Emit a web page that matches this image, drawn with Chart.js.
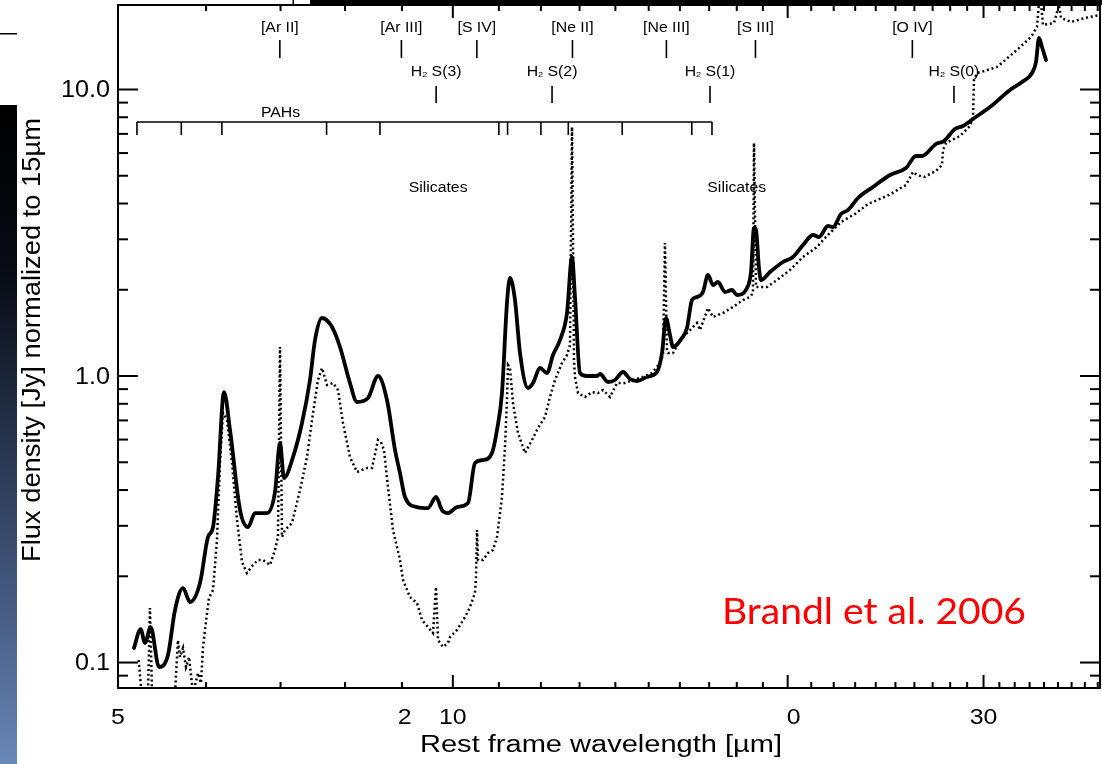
<!DOCTYPE html>
<html><head><meta charset="utf-8">
<script src="https://cdn.jsdelivr.net/npm/chart.js@4.4.1/dist/chart.umd.min.js"></script>
<style>html,body{margin:0;padding:0;background:#fff;overflow:hidden}</style>
</head><body>
<canvas id="c" width="1102" height="764"></canvas>
<script>
// ---- data (wavelength in µm, flux density in Jy) ----
const solidWavelength = [5.168,5.240,5.287,5.350,5.443,5.545,5.626,5.720,5.804,5.925,6.024,6.087,6.150,6.227,6.305,6.437,6.544,6.640,6.807,6.920,6.992,7.050,7.183,7.318,7.440,7.518,7.627,7.787,7.917,8.082,8.200,8.389,8.565,8.726,8.872,8.964,9.057,9.285,9.499,9.657,9.778,9.900,10.087,10.319,10.469,10.644,10.844,10.957,11.071,11.186,11.256,11.373,11.492,11.683,11.805,11.977,12.152,12.304,12.484,12.666,12.798,12.877,13.011,13.201,13.477,13.561,13.788,13.989,14.223,14.430,14.641,14.947,15.260,15.419,15.547,15.676,15.774,16.070,16.238,16.407,16.577,16.784,16.959,17.135,17.314,17.566,17.823,18.008,18.385,18.538,18.654,18.731,18.847,18.925,19.281,19.807,20.22,20.645,21.077,21.340,21.741,21.968,22.334,22.660,23.134,23.864,24.72,25.551,26.086,26.412,27.188,27.642,28.279,28.751,29.353,30.404,31.689,32.486,33.17,33.441,33.650,33.859,34.141];
const solidFlux = [0.1124,0.1309,0.1170,0.1330,0.0965,0.1062,0.1525,0.1820,0.1626,0.1894,0.2742,0.2971,0.4441,0.8793,0.6479,0.3406,0.2971,0.3325,0.3325,0.3937,0.5837,0.4406,0.5215,0.6854,0.9684,1.3355,1.5938,1.4827,1.2625,0.9453,0.8115,0.8379,1.000,0.8246,0.5517,0.4586,0.3782,0.3489,0.3461,0.3782,0.3406,0.3325,0.3489,0.3603,0.4970,0.5091,0.5386,0.6479,0.8723,1.798,2.198,1.842,1.203,0.9081,0.9453,1.0664,1.0244,1.1839,1.3355,1.6592,2.6023,1.8869,1.0244,1.000,1.000,1.0162,0.9529,0.9684,1.0327,0.9762,0.9606,0.9920,1.0327,1.2030,1.5938,1.3903,1.2625,1.3572,1.4708,1.842,1.8869,1.9642,2.2518,2.0779,2.1286,1.9642,1.9961,1.9174,2.0284,2.3067,3.2851,3.2327,2.3821,2.1631,2.3067,2.4998,2.6023,2.8658,3.1057,3.0562,3.3384,3.3116,3.6766,3.7967,4.1811,4.5675,5.0301,5.3211,5.8600,5.8600,6.4532,6.6108,7.2802,7.4580,7.8896,8.6884,9.9597,10.621,11.418,12.473,15.128,14.072,12.675];

const dottedWavelength = [5.219,5.250,5.320,5.342,5.365,5.626,5.661,5.685,5.720,5.756,5.792,5.840,5.901,5.937,5.962,6.012,6.036,6.087,6.137,6.175,6.214,6.266,6.331,6.397,6.463,6.530,6.612,6.681,6.750,6.849,6.920,6.963,6.992,7.021,7.065,7.168,7.288,7.394,7.471,7.564,7.627,7.707,7.803,7.884,7.966,8.082,8.200,8.372,8.459,8.565,8.618,8.672,8.744,8.835,8.964,9.020,9.151,9.285,9.382,9.499,9.598,9.657,9.698,9.798,9.900,9.941,10.087,10.255,10.362,10.469,10.491,10.513,10.535,10.644,10.755,10.867,10.957,11.026,11.071,11.140,11.186,11.210,11.256,11.326,11.444,11.611,11.781,11.928,12.102,12.228,12.355,12.535,12.666,12.745,12.798,12.851,12.877,12.958,13.147,13.339,13.505,13.646,13.845,14.047,14.282,14.520,14.824,15.103,15.355,15.450,15.514,15.579,15.611,15.774,16.004,16.339,16.577,16.681,16.959,17.135,17.494,17.860,18.233,18.499,18.615,18.654,18.731,19.162,19.563,20.096,20.645,21.252,21.562,22.334,22.991,23.618,24.668,25.551,25.924,26.14,26.52,27.188,27.528,27.585,27.76,28.573,29.171,29.353,29.413,29.596,29.843,30.848,32.151,33.097,33.511,33.719,33.929,34.711,35.073,35.22,35.954,37.012,38.18];
const dottedFlux = [0.1020,0.078,0.078,0.1550,0.078,0.078,0.1198,0.1045,0.1124,0.0965,0.1045,0.078,0.0919,0.0848,0.1133,0.1489,0.1679,0.1791,0.2677,0.4970,0.7428,0.7022,0.4970,0.3143,0.2243,0.2053,0.2190,0.2279,0.2279,0.2190,0.2470,0.2742,1.2625,0.2742,0.2901,0.3069,0.4000,0.5215,0.7022,0.9684,1.0664,0.9302,0.9453,0.8936,0.6854,0.5215,0.4623,0.4774,0.4774,0.5979,0.5883,0.5517,0.4098,0.2901,0.2279,0.1941,0.1693,0.1613,0.1407,0.1330,0.1268,0.1835,0.1198,0.1133,0.1170,0.1227,0.1299,0.1441,0.1562,0.1748,0.1988,0.2901,0.2279,0.2279,0.2411,0.2470,0.2742,0.3325,0.3782,0.5652,0.8246,1.0924,1.0664,0.8049,0.6325,0.5386,0.5979,0.6584,0.7193,0.8447,0.9684,1.1101,1.1839,1.2829,7.398,1.1372,0.9920,0.8723,0.8447,0.8793,0.8723,0.8936,0.8447,0.9453,0.9453,0.9684,0.9920,1.0244,1.1101,1.1839,2.9122,1.2324,1.2030,1.2030,1.3355,1.4473,1.5311,1.4473,1.7273,1.6067,1.6592,1.7412,1.8420,1.8869,1.9486,6.505,2.0448,2.0448,2.1631,2.3441,2.6023,2.8201,3.0074,3.4475,3.6766,3.9843,4.2832,4.6416,5.1527,5.0301,4.9498,5.1944,5.4509,6.1494,6.5054,6.8818,7.4580,8.0174,10.793,11.418,11.510,11.982,13.737,15.251,16.527,22,16.794,17.066,19.722,17.766,17.204,17.766,18.200];

// axis ticks and labels
const xMajorTicks = [5, 10, 20, 30];
const xMinorTicks = [6,7,8,9,11,12,13,14,15,16,17,18,19,21,22,23,24,25,26,27,28,29,31,32,33,34,35,36,37,38];
const xTickLabels = ['5', '2', '10', '0', '30'];
const xTickLabelAt = [5, 9.05, 10, 20.25, 30];
const yMajorTicks = [0.1, 1, 10];
const yMinorTicks = [0.09,0.2,0.3,0.4,0.5,0.6,0.7,0.8,0.9,2,3,4,5,6,7,8,9];
const yTickLabels = ['0.1', '1.0', '10.0'];

// spectral line identifications
const ionLines = ['[Ar II]', '[Ar III]', '[S IV]', '[Ne II]', '[Ne III]', '[S III]', '[O IV]'];
const ionWavelength = [6.99, 8.99, 10.51, 12.81, 15.56, 18.71, 25.89];
const h2Lines = ['S(3)', 'S(2)', 'S(1)', 'S(0)'];
const h2Wavelength = [9.66, 12.28, 17.03, 28.22];
const pahBands = [5.2, 5.7, 6.2, 7.7, 8.6, 11.0, 11.2, 12.0, 12.7, 14.2, 16.4, 17.1];
const silicateLabelAt = [9.7, 18.0];

const FONT = '"Liberation Sans", Arial, Helvetica, sans-serif';

function drawText(ctx, s, x, y, size, o = {}) {
  const align = o.align || 'center', base = o.base || 'middle';
  ctx.save();
  ctx.font = size + 'px ' + (o.family || FONT);
  ctx.fillStyle = o.color || '#000';
  ctx.textAlign = align; ctx.textBaseline = base;
  ctx.translate(x, y);
  if (o.rot) ctx.rotate(o.rot);
  let sc = o.sx || 1.13;
  if (o.fitW) sc = o.fitW / ctx.measureText(s).width;
  ctx.scale(sc, 1);
  ctx.fillText(s, 0, 0);
  ctx.restore();
}

function drawH2(ctx, label, cx, cy) {
  const sx = 1.13;
  ctx.save();
  ctx.fillStyle = '#000'; ctx.textBaseline = 'middle'; ctx.textAlign = 'left';
  ctx.font = '14px ' + FONT; const wH = ctx.measureText('H').width;
  const wL = ctx.measureText(' ' + label).width;
  ctx.font = '8px ' + FONT; const w2 = ctx.measureText('2').width;
  const total = (wH + w2 + wL) * sx;
  ctx.translate(cx - total / 2, cy); ctx.scale(sx, 1);
  ctx.font = '14px ' + FONT; ctx.fillText('H', 0, 0);
  ctx.font = '8px ' + FONT; ctx.fillText('2', wH, 3);
  ctx.font = '14px ' + FONT; ctx.fillText(' ' + label, wH + w2, 0);
  ctx.restore();
}

const backdrop = {
  id: 'backdrop',
  beforeDraw(chart) {
    const ctx = chart.ctx;
    ctx.save();
    ctx.fillStyle = '#fff'; ctx.fillRect(0, 0, chart.width, chart.height);
    const g = ctx.createLinearGradient(0, 105, 0, 764);
    g.addColorStop(0, '#000000'); g.addColorStop(0.25, '#070b14');
    g.addColorStop(0.55, '#2b3a56'); g.addColorStop(0.8, '#4b628a'); g.addColorStop(1, '#6a88b8');
    ctx.fillStyle = g; ctx.fillRect(0, 105, 17, 659);
    ctx.fillStyle = '#000'; ctx.fillRect(0, 33, 17, 1.5);
    ctx.fillRect(310, 0, 792, 5);
    ctx.fillRect(292.5, 0, 1.5, 5);
    ctx.restore();
  }
};

const axesPlugin = {
  id: 'axesPlugin',
  afterDatasetsDraw(chart) {
    const ctx = chart.ctx, a = chart.chartArea;
    const xs = chart.scales.x, ys = chart.scales.y;
    ctx.save();
    ctx.strokeStyle = '#000'; ctx.lineWidth = 2;
    ctx.strokeRect(a.left, a.top, a.right - a.left, a.bottom - a.top);
    const seg = (x1, y1, x2, y2) => { ctx.beginPath(); ctx.moveTo(x1, y1); ctx.lineTo(x2, y2); ctx.stroke(); };
    // x ticks (bottom & top, inward)
    xMajorTicks.forEach(v => { const p = xs.getPixelForValue(v); seg(p, a.bottom, p, a.bottom - 13); seg(p, a.top, p, a.top + 13); });
    xMinorTicks.forEach(v => { if (v > xs.max) return; const p = xs.getPixelForValue(v); seg(p, a.bottom, p, a.bottom - 6); seg(p, a.top, p, a.top + 6); });
    // y ticks (left & right, inward)
    yMajorTicks.forEach(v => { const p = ys.getPixelForValue(v); seg(a.left, p, a.left + 20, p); seg(a.right, p, a.right - 20, p); });
    yMinorTicks.forEach(v => { if (v < ys.min || v > ys.max) return; const p = ys.getPixelForValue(v); seg(a.left, p, a.left + 10, p); seg(a.right, p, a.right - 10, p); });
    // tick labels
    yMajorTicks.forEach((v, i) => drawText(ctx, yTickLabels[i], 110, ys.getPixelForValue(v) + 1, 24, { align: 'right', sx: 1.05 }));
    xTickLabels.forEach((s, i) => drawText(ctx, s, xs.getPixelForValue(xTickLabelAt[i]), 718, 22, { sx: 1.13 }));
    // axis titles
    drawText(ctx, 'Rest frame wavelength [\u00b5m]', 601, 746, 23, { fitW: 362 });
    drawText(ctx, 'Flux density [Jy] normalized to 15\u00b5m', 33, 340, 26, { rot: -Math.PI / 2, fitW: 444 });
    // line identifications
    ctx.lineWidth = 1.6;
    ionLines.forEach((s, i) => {
      const p = xs.getPixelForValue(ionWavelength[i]);
      drawText(ctx, s, p, 28, 14);
      seg(p, 40, p, 58);
    });
    h2Lines.forEach((s, i) => {
      const p = xs.getPixelForValue(h2Wavelength[i]);
      drawH2(ctx, s, p, 72);
      seg(p, 86, p, 103);
    });
    // PAH bracket
    const p0 = xs.getPixelForValue(pahBands[0]), p1 = xs.getPixelForValue(pahBands[pahBands.length - 1]);
    seg(p0, 122, p1, 122);
    pahBands.forEach(v => { const p = xs.getPixelForValue(v); seg(p, 122, p, 135); });
    drawText(ctx, 'PAHs', xs.getPixelForValue(7.0), 113, 14);
    silicateLabelAt.forEach(v => drawText(ctx, 'Silicates', xs.getPixelForValue(v), 188, 14));
    // citation
    drawText(ctx, 'Brandl et al. 2006', 874, 612, 36, { family: 'Lato, "Open Sans", sans-serif', color: '#ff0000', fitW: 304 });
    ctx.restore();
  }
};

new Chart(document.getElementById('c'), {
  type: 'scatter',
  data: {
    datasets: [
      {
        label: 'solid',
        data: solidWavelength.map((w, i) => ({ x: w, y: solidFlux[i] })),
        showLine: true, borderColor: '#000', borderWidth: 3.8,
        borderJoinStyle: 'round', borderCapStyle: 'round',
        cubicInterpolationMode: 'monotone', pointRadius: 0, clip: 0
      },
      {
        label: 'dotted',
        data: dottedWavelength.map((w, i) => ({ x: w, y: dottedFlux[i] })),
        showLine: true, borderColor: '#000', borderWidth: 2.5,
        borderDash: [2, 2.8], pointRadius: 0, clip: 0
      }
    ]
  },
  options: {
    responsive: false, animation: false,
    layout: { padding: { left: 118, right: 2, top: 5, bottom: 76 } },
    plugins: { legend: { display: false }, tooltip: { enabled: false } },
    scales: {
      x: { type: 'logarithmic', min: 5, max: 38.18, display: false },
      y: { type: 'logarithmic', min: 0.0815, max: 19.72, display: false }
    }
  },
  plugins: [backdrop, axesPlugin]
});
</script>
</body></html>
